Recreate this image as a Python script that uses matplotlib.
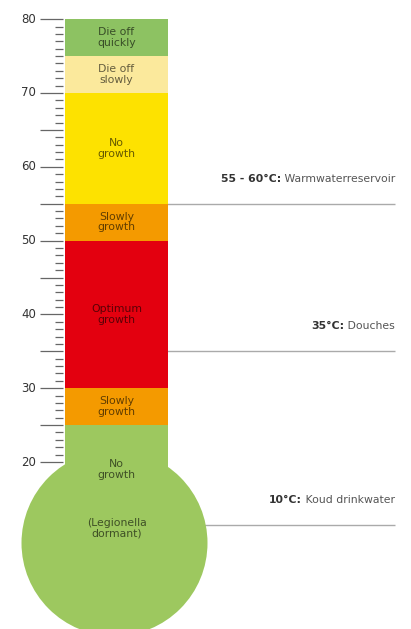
import matplotlib
matplotlib.use("Agg")
import matplotlib.pyplot as plt
from matplotlib.patches import Rectangle, Ellipse

# Bands in the thermometer tube (degrees C)
band_lo = [75, 70, 55, 50, 30, 25]
band_hi = [80, 75, 70, 55, 50, 30]
band_labels = ["Die off\nquickly", "Die off\nslowly", "No\ngrowth",
               "Slowly\ngrowth", "Optimum\ngrowth", "Slowly\ngrowth"]
band_colors = ["#8dc262", "#fbe99c", "#fde200", "#f49a00", "#e3000f", "#f49a00"]

# Bottom (bulb) part
bulb_top = 25
bulb_color = "#9dc85f"
bulb_labels = ["No\ngrowth", "(Legionella\ndormant)"]
bulb_label_temps = [19, 11]

# Scale ticks
major_ticks = [20, 30, 40, 50, 60, 70, 80]
minor_ticks = list(range(20, 81))

# Annotations on the right
note_temps = [55, 35, 11.5]
note_bold = ["55 - 60°C:", "35°C:", "10°C:"]
note_text = [" Warmwaterreservoir", " Douches", " Koud drinkwater"]

# mapping pixel layout -> temperature
px_per_deg = 7.38
y20_px = 462
H, W = 629, 411
ytop = 20 + y20_px / px_per_deg
ybot = 20 - (H - y20_px) / px_per_deg

fig = plt.figure(figsize=(W / 100, H / 100), dpi=100)
ax = fig.add_axes([0, 0, 1, 1])
ax.set_xlim(0, W)
ax.set_ylim(ybot, ytop)
ax.axis("off")

tube_x0, tube_x1 = 65, 168
tube_w = tube_x1 - tube_x0
tube_cx = (tube_x0 + tube_x1) / 2

# tube bands
for lo, hi, lab, c in zip(band_lo, band_hi, band_labels, band_colors):
    ax.add_patch(Rectangle((tube_x0, lo), tube_w, hi - lo, color=c, lw=0, zorder=3))
    ax.text(tube_cx, (lo + hi) / 2, lab, ha="center", va="center", fontsize=7.8,
            color="black", alpha=0.6, linespacing=1.05, zorder=4)

# bulb: rest of tube + circle
bulb_cy = 20 - (543 - y20_px) / px_per_deg
r_px = 93
ax.add_patch(Rectangle((tube_x0, bulb_cy), tube_w, bulb_top - bulb_cy,
                       color=bulb_color, lw=0, zorder=3))
ax.add_patch(Ellipse((tube_cx - 2, bulb_cy), 2 * r_px, 2 * r_px / px_per_deg,
                     color=bulb_color, lw=0, zorder=3))
for lab, t in zip(bulb_labels, bulb_label_temps):
    ax.text(tube_cx, t, lab, ha="center", va="center", fontsize=7.8,
            color="black", alpha=0.6, linespacing=1.05, zorder=4)

# scale ticks
for t in minor_ticks:
    if t % 5 == 0 and t != 75:
        ax.hlines(t, 40, 63, color="#666666", lw=0.9)
    else:
        ax.hlines(t, 55, 63, color="#666666", lw=0.9)
for t in major_ticks:
    ax.text(36, t, str(t), ha="right", va="center", fontsize=8.5, color="#333333")

# annotations
fig.canvas.draw()
renderer = fig.canvas.get_renderer()
for t, b, s in zip(note_temps, note_bold, note_text):
    ax.hlines(t, tube_cx, 395, color="#aaaaaa", lw=1, zorder=1)
    ty = t + 3.4
    txt = ax.text(395, ty, s, ha="right", va="center", fontsize=7.8, color="#555555")
    bb = txt.get_window_extent(renderer)
    xb = ax.transData.inverted().transform((bb.x0, 0))[0]
    ax.text(xb, ty, b, ha="right", va="center", fontsize=7.8, color="#333333",
            fontweight="bold")

fig.savefig("out.png", dpi=100)
